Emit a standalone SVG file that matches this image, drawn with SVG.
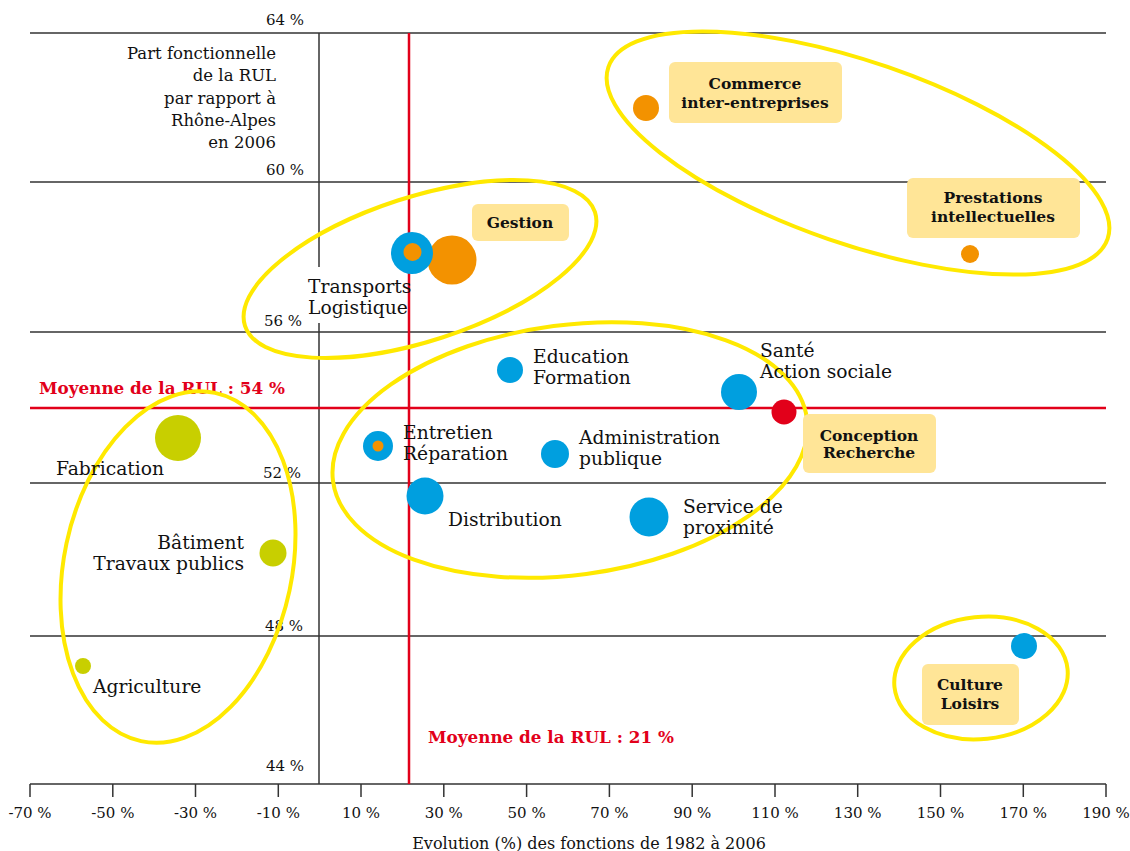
<svg xmlns="http://www.w3.org/2000/svg" width="1130" height="851" viewBox="0 0 1130 851">
<style>
.grid{stroke:#333;stroke-width:1.5;fill:none}
.red{stroke:#E2001A;stroke-width:2.5;fill:none}
.ell{fill:none;stroke:#FFE900;stroke-width:4}
.box{fill:#FFE597}
.t{font-family:"DejaVu Serif","Liberation Serif",serif;font-size:18.7px;fill:#111}
.ax{font-family:"DejaVu Serif","Liberation Serif",serif;font-size:15px;fill:#111}
.b{font-family:"DejaVu Serif","Liberation Serif",serif;font-size:15.5px;font-weight:bold;fill:#111;text-anchor:middle}
.rb{font-family:"DejaVu Serif","Liberation Serif",serif;font-size:16.8px;font-weight:bold;fill:#E2001A}
.blue{fill:#009FDF}
.or{fill:#F39200}
.gr{fill:#C8CF00}
.rd{fill:#E2001A}
</style>
<rect width="1130" height="851" fill="#fff"/>
<g id="axes">
<line class="grid" x1="30" y1="33" x2="1106" y2="33"/>
<line class="grid" x1="30" y1="182" x2="1106" y2="182"/>
<line class="grid" x1="30" y1="332" x2="1106" y2="332"/>
<line class="grid" x1="30" y1="483" x2="1106" y2="483"/>
<line class="grid" x1="30" y1="636" x2="1106" y2="636"/>
<line class="grid" x1="30" y1="784" x2="1106" y2="784"/>
<line class="grid" x1="319" y1="33" x2="319" y2="267"/>
<line class="grid" x1="319" y1="323" x2="319" y2="784"/>
<g class="grid">
<line x1="30" y1="784" x2="30" y2="797"/><line x1="112.8" y1="784" x2="112.8" y2="797"/><line x1="195.5" y1="784" x2="195.5" y2="797"/><line x1="278.3" y1="784" x2="278.3" y2="797"/><line x1="361" y1="784" x2="361" y2="797"/><line x1="443.8" y1="784" x2="443.8" y2="797"/><line x1="526.6" y1="784" x2="526.6" y2="797"/><line x1="609.4" y1="784" x2="609.4" y2="797"/><line x1="692.2" y1="784" x2="692.2" y2="797"/><line x1="775" y1="784" x2="775" y2="797"/><line x1="857.7" y1="784" x2="857.7" y2="797"/><line x1="940.5" y1="784" x2="940.5" y2="797"/><line x1="1023.3" y1="784" x2="1023.3" y2="797"/><line x1="1106" y1="784" x2="1106" y2="797"/>
</g>
<g class="ax" text-anchor="middle">
<text x="30" y="818">-70 %</text><text x="112.8" y="818">-50 %</text><text x="195.5" y="818">-30 %</text><text x="278.3" y="818">-10 %</text><text x="361" y="818">10 %</text><text x="443.8" y="818">30 %</text><text x="526.6" y="818">50 %</text><text x="609.4" y="818">70 %</text><text x="692.2" y="818">90 %</text><text x="775" y="818">110 %</text><text x="857.7" y="818">130 %</text><text x="940.5" y="818">150 %</text><text x="1023.3" y="818">170 %</text><text x="1106" y="818">190 %</text>
<text x="589" y="849" style="font-size:16px">Evolution (%) des fonctions de 1982 à 2006</text>
</g>
<g class="ax" text-anchor="end">
<text x="304" y="25">64 %</text><text x="304" y="175">60 %</text><text x="302" y="326">56 %</text><text x="301" y="478">52 %</text><text x="303" y="631">48 %</text><text x="304" y="771">44 %</text>
</g>
<g class="ax" text-anchor="end" style="font-size:16.5px">
<text x="276" y="59">Part fonctionnelle</text><text x="276" y="81">de la RUL</text><text x="276" y="104">par rapport à</text><text x="276" y="126">Rhône-Alpes</text><text x="276" y="148">en 2006</text>
</g>
<line class="red" x1="409" y1="33" x2="409" y2="784"/>
<line class="red" x1="30" y1="408" x2="1106" y2="408"/>
<text class="rb" x="39" y="394">Moyenne de la RUL : 54 %</text>
<text class="rb" x="428" y="743">Moyenne de la RUL : 21 %</text>
</g>
<g id="groups">
<ellipse class="ell" cx="858" cy="153" rx="264" ry="91" transform="rotate(19 858 153)"/>
<ellipse class="ell" cx="420" cy="269" rx="184" ry="72" transform="rotate(-18 420 269)"/>
<ellipse class="ell" cx="570" cy="450" rx="239" ry="125" transform="rotate(-7.5 570 450)"/>
<ellipse class="ell" cx="178" cy="567" rx="114" ry="178" transform="rotate(12 178 567)"/>
<ellipse class="ell" cx="981" cy="678" rx="87" ry="61" transform="rotate(-6 981 678)"/>
</g>
<g id="commerce"><rect class="box" x="669" y="62" width="173" height="61" rx="6"/><text class="b" x="755" y="89">Commerce</text><text class="b" x="755" y="108">inter-entreprises</text><circle class="or" cx="646" cy="108" r="13"/></g>
<g id="prestations"><rect class="box" x="907" y="178" width="173" height="60" rx="6"/><text class="b" x="993" y="203">Prestations</text><text class="b" x="993" y="222">intellectuelles</text><circle class="or" cx="970" cy="254" r="9"/></g>
<g id="gestion"><rect class="box" x="472" y="204" width="97" height="37" rx="6"/><text class="b" x="520" y="228">Gestion</text><circle class="or" cx="452" cy="260" r="24.5"/></g>
<g id="transports"><circle class="blue" cx="412" cy="253" r="21"/><circle class="or" cx="412.5" cy="252" r="9"/><text class="t" x="308" y="293">Transports</text><text class="t" x="308" y="314">Logistique</text></g>
<g id="education"><circle class="blue" cx="510" cy="370" r="13"/><text class="t" x="533" y="363">Education</text><text class="t" x="533" y="384">Formation</text></g>
<g id="sante"><circle class="blue" cx="739" cy="392" r="18"/><text class="t" x="760" y="357">Santé</text><text class="t" x="760" y="378">Action sociale</text></g>
<g id="conception"><circle class="rd" cx="784" cy="412" r="12.5"/><rect class="box" x="803" y="414" width="133" height="59" rx="6"/><text class="b" x="869" y="441">Conception</text><text class="b" x="869" y="458">Recherche</text></g>
<g id="entretien"><circle class="blue" cx="378" cy="446" r="15"/><circle class="or" cx="378" cy="446" r="5.5"/><text class="t" x="403" y="439">Entretien</text><text class="t" x="403" y="460">Réparation</text></g>
<g id="administration"><circle class="blue" cx="555" cy="454" r="14"/><text class="t" x="579" y="444">Administration</text><text class="t" x="579" y="465">publique</text></g>
<g id="distribution"><circle class="blue" cx="425" cy="496" r="18.5"/><text class="t" x="448" y="526">Distribution</text></g>
<g id="service"><circle class="blue" cx="649" cy="517" r="19.5"/><text class="t" x="683" y="513">Service de</text><text class="t" x="683" y="534">proximité</text></g>
<g id="fabrication"><circle class="gr" cx="178" cy="438" r="23"/><text class="t" x="56" y="475">Fabrication</text></g>
<g id="batiment"><circle class="gr" cx="273" cy="553" r="13.5"/><text class="t" x="244" y="549" text-anchor="end">Bâtiment</text><text class="t" x="244" y="570" text-anchor="end">Travaux publics</text></g>
<g id="agriculture"><circle class="gr" cx="83" cy="666" r="8"/><text class="t" x="93" y="693">Agriculture</text></g>
<g id="culture"><rect class="box" x="922" y="664" width="97" height="61" rx="6"/><text class="b" x="970" y="690">Culture</text><text class="b" x="970" y="709">Loisirs</text><circle class="blue" cx="1024" cy="646" r="13"/></g>
</svg>
